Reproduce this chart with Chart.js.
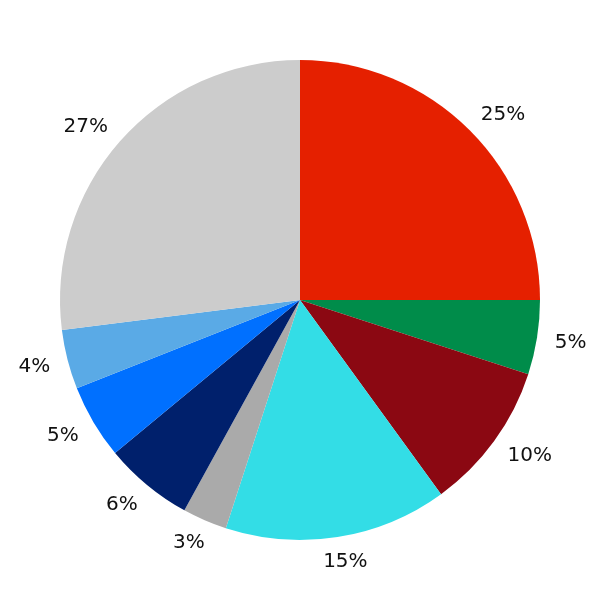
<!DOCTYPE html>
<html>
<head>
<meta charset="utf-8">
<script src="https://cdn.jsdelivr.net/npm/chart.js@4"></script>
<style>
html,body{margin:0;padding:0;background:#fff;}
#wrap{width:600px;height:600px;}
</style>
</head>
<body>
<div id="wrap"><canvas id="c" width="600" height="600"></canvas></div>
<script>
const categories = ["A","B","C","D","E","F","G","H","I"];
const values = [25, 5, 10, 15, 3, 6, 5, 4, 27];
const labels = ["25%","5%","10%","15%","3%","6%","5%","4%","27%"];
const colors = ["#E52000","#008C4A","#8B0812","#33DDE6","#AAAAAA","#00206C","#0070FF","#5AAAE6","#CCCCCC"];

const labelPlugin = {
  id: 'outLabels',
  afterDatasetsDraw(chart) {
    const ctx = chart.ctx;
    const meta = chart.getDatasetMeta(0);
    ctx.save();
    ctx.font = '20px "DejaVu Sans"';
    ctx.fillStyle = '#111';
    ctx.textAlign = 'center';
    ctx.textBaseline = 'middle';
    meta.data.forEach((arc, i) => {
      const p = arc.getProps(['x','y','startAngle','endAngle','outerRadius'], true);
      const mid = (p.startAngle + p.endAngle) / 2;
      const r = p.outerRadius * 1.1;
      const c = Math.cos(mid), s = Math.sin(mid);
      const hw = ctx.measureText(labels[i]).width / 2;
      const f = Math.min(1, Math.abs(c) * 1.6);
      const dx = Math.sign(c) * (hw - 6) * f;
      ctx.fillText(labels[i], p.x + c * r + dx, p.y + s * r + 1);
    });
    ctx.restore();
  }
};

new Chart(document.getElementById('c'), {
  type: 'pie',
  data: {
    labels: categories,
    datasets: [{ data: values, backgroundColor: colors, borderWidth: 0 }]
  },
  options: {
    responsive: false,
    animation: false,
    layout: { padding: 60 },
    plugins: { legend: { display: false }, tooltip: { enabled: false } }
  },
  plugins: [labelPlugin]
});
</script>
</body>
</html>
